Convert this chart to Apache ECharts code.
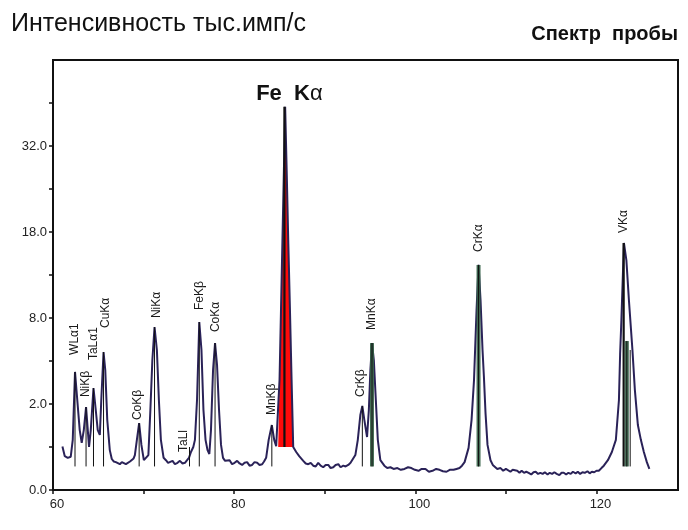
<!DOCTYPE html>
<html><head><meta charset="utf-8">
<script src="https://cdn.jsdelivr.net/npm/echarts@6/dist/echarts.min.js"></script>
<style>html,body{margin:0;padding:0;background:#fff}#c{width:688px;height:530px}</style>
</head><body><div id="c"></div>
<script>
// ---- data (x position, intensity in thousand counts/s) ----
const specX = [
  61.04,61.30,61.63,61.96,62.18,62.43,62.68,62.95,63.17,63.40,
  63.65,63.84,63.98,64.17,64.47,64.72,64.94,65.17,65.33,65.58,
  65.77,65.99,66.27,66.49,66.70,66.94,67.15,67.38,67.60,67.82,
  68.05,68.26,68.50,68.70,68.90,69.04,69.26,69.51,69.76,70.03,
  70.25,70.53,70.75,70.97,71.21,71.47,71.69,71.91,72.21,72.47,
  72.70,72.91,73.20,73.46,73.75,74.01,74.30,74.57,74.80,75.01,
  75.23,75.49,75.67,75.90,76.15,76.39,76.61,76.84,77.06,77.26,
  77.44,77.67,77.89,78.11,78.33,78.55,78.77,79.00,79.22,79.50,
  79.77,80.05,80.33,80.60,80.88,81.15,81.43,81.70,81.98,82.25,
  82.54,82.80,83.09,83.30,83.53,83.81,84.16,84.42,84.64,84.86,
  85.01,85.17,85.33,85.48,85.63,85.81,85.97,86.16,86.34,86.52,
  86.85,87.18,87.63,87.90,88.18,88.45,88.73,89.00,89.28,89.55,
  89.83,90.10,90.39,90.65,90.94,91.20,91.50,91.75,92.05,92.30,
  92.60,92.85,93.05,93.38,93.65,93.93,94.15,94.37,94.67,94.87,
  95.04,95.22,95.42,95.64,95.86,96.14,96.58,96.90,97.25,97.60,
  98.02,98.40,98.80,99.20,99.57,99.95,100.35,100.70,101.12,101.50,
  101.90,102.30,102.67,103.05,103.44,103.80,104.22,104.55,104.88,105.15,
  105.44,105.88,106.21,106.48,106.76,106.98,107.20,107.42,107.57,107.75,
  107.97,108.30,108.55,108.75,109.05,109.41,109.70,110.00,110.19,110.50,
  110.75,110.96,111.25,111.50,111.74,112.00,112.25,112.51,112.80,113.05,
  113.29,113.55,113.80,114.06,114.30,114.60,114.84,115.10,115.35,115.61,
  115.90,116.15,116.39,116.65,116.90,117.16,117.40,117.70,117.94,118.20,
  118.45,118.71,119.00,119.25,119.49,119.75,120.00,120.26,120.55,120.81,
  121.26,121.70,122.14,122.48,122.61,122.75,123.03,123.30,123.58,123.97,
  124.24,124.57,124.90,125.23,125.56,125.84
];
const specI = [
  0.51,0.31,0.28,0.30,0.68,3.77,2.19,0.97,0.60,0.97,
  1.86,0.97,0.50,0.97,2.81,1.73,0.97,0.82,2.19,5.15,
  3.89,1.33,0.43,0.26,0.22,0.21,0.19,0.18,0.21,0.23,
  0.18,0.20,0.22,0.23,0.27,0.33,0.68,1.21,0.55,0.24,
  0.21,0.33,1.73,4.57,7.18,5.30,2.19,0.68,0.28,0.24,
  0.20,0.21,0.23,0.18,0.20,0.23,0.19,0.20,0.24,0.28,
  0.39,0.50,0.68,2.19,7.63,5.30,1.73,0.68,0.43,0.35,
  0.97,3.89,5.84,4.22,1.73,0.55,0.28,0.23,0.21,0.24,
  0.18,0.20,0.23,0.19,0.17,0.20,0.21,0.16,0.17,0.21,
  0.20,0.17,0.18,0.22,0.28,0.68,1.14,0.68,0.52,0.50,
  3.27,8.76,16.9,26.8,39.7,26.8,16.9,8.76,3.27,0.50,
  0.39,0.31,0.23,0.19,0.18,0.20,0.16,0.15,0.20,0.16,
  0.14,0.17,0.17,0.13,0.14,0.17,0.18,0.14,0.16,0.15,
  0.17,0.20,0.21,0.33,0.68,1.52,1.91,1.33,0.76,1.73,
  3.89,5.84,4.57,2.19,0.68,0.24,0.16,0.13,0.14,0.12,
  0.13,0.11,0.12,0.14,0.13,0.11,0.10,0.12,0.12,0.09,
  0.10,0.12,0.11,0.095,0.09,0.11,0.11,0.12,0.13,0.16,
  0.21,0.48,1.33,3.27,8.76,13.7,9.76,5.30,3.50,1.60,
  0.55,0.24,0.17,0.16,0.12,0.13,0.10,0.12,0.11,0.09,
  0.11,0.09,0.10,0.08,0.10,0.08,0.09,0.08,0.065,0.085,
  0.09,0.07,0.08,0.07,0.085,0.065,0.08,0.07,0.085,0.07,
  0.06,0.08,0.08,0.065,0.08,0.07,0.09,0.075,0.09,0.07,
  0.085,0.08,0.095,0.075,0.09,0.085,0.10,0.10,0.13,0.16,
  0.24,0.39,0.68,2.19,5.00,7.80,16.5,14.3,9.76,5.30,
  2.70,1.14,0.68,0.39,0.21,0.12
];

// Fe Kα integration window (x range and base intensity)
const feWindow = [84.86, 86.52];
const feBase = 0.50;
const feLineX = 85.55;
const feTop = 39.7;
const feLabel = ['Fe  K', 'α'];

// peak identification lines
const peakNames = ['WLα1','NiKβ','TaLα1','CuKα','CoKβ','NiKα','TaLl','FeKβ','CoKα','MnKβ','CrKβ','MnKα','CrKα','VKα'];
const peakX     = [62.43, 63.65, 64.47, 65.58, 69.51, 71.21, 75.07, 76.15, 77.89, 84.16, 94.15, 95.22, 106.98, 123.00];
const peakTop   = [3.77, 1.86, 2.81, 5.15, 1.21, 7.18, 0.50, 7.63, 5.84, 1.14, 1.91, 5.84, 13.7, 16.5];
const extraX    = [123.35, 123.72];
const extraTop  = [6.0, 5.3];
const lineFloor = 0.15;

// axis ticks (intensity values)
const xTickValues = [60,70,80,90,100,110,120];
const xLabelValues = [60,80,100,120];
const yTickValues = [0,0.5,2,4.5,8,12.5,18,24.5,32,40.5];
const yLabelValues = [0,2,8,18,32];
const xRange = [60, 129];
const yMaxI = 50;

// ---- layout / style ----
const peakKind  = ['thin','thin','thin','thin','thin','thin','thin','thin','thin','thin','thin','green','green','black'];
const extraKind = ['green','thin'];
const labelGap  = [17,10,28,24,3,9,-5,12,11,10,9,13,13,10];
const labelDx   = [0,0,0,2,-1,2,-6,0,1,0,-2,0,0,0];

const tr = v => Math.sqrt(v / 2);
const kindCode = {thin:0, green:1, black:2};

const curve = specX.map((x, i) => [x, tr(specI[i])]);
const fePts = [];
specX.forEach((x, i) => { if (x >= feWindow[0] - 1e-6 && x <= feWindow[1] + 1e-6) fePts.push([x, specI[i]]); });

const lineRows = peakX.map((x, i) => [x, peakTop[i], lineFloor, kindCode[peakKind[i]]])
  .concat(extraX.map((x, i) => [x, extraTop[i], lineFloor, kindCode[extraKind[i]]]))
  .concat([[feLineX, feTop, feBase, 2]]);
const labelRows = peakX.map((x, i) => [x, tr(peakTop[i]), i]);

const chart = echarts.init(document.getElementById('c'));
chart.setOption({
  animation: false,
  backgroundColor: '#fff',
  title: [
    { text: 'Интенсивность тыс.имп/с', left: 6, top: 7,
      textStyle: { fontFamily: '"Liberation Sans Narrow", "Liberation Sans", sans-serif', fontSize: 25, fontWeight: 'normal', color: '#111' } },
    { text: 'Спектр  пробы', right: 5, top: 19,
      textStyle: { fontFamily: '"Liberation Sans", sans-serif', fontSize: 20, fontWeight: 'bold', color: '#111' } }
  ],
  grid: { left: 53, right: 10, top: 60, bottom: 40, show: true, borderColor: '#111', borderWidth: 2, backgroundColor: 'transparent' },
  xAxis: {
    type: 'value', min: xRange[0], max: xRange[1],
    axisLine: { show: true, onZero: false, lineStyle: { color: '#111', width: 2 } },
    axisTick: { show: true, customValues: xTickValues, length: 4, lineStyle: { color: '#111', width: 1.5 } },
    axisLabel: { customValues: xLabelValues, margin: 8, padding: [0, 0, 0, 8], color: '#222', fontSize: 13, fontFamily: '"Liberation Sans", sans-serif' },
    splitLine: { show: false }
  },
  yAxis: {
    type: 'value', min: 0, max: tr(yMaxI),
    axisLine: { show: true, lineStyle: { color: '#111', width: 2 } },
    axisTick: { show: true, customValues: yTickValues.map(tr), length: 4, lineStyle: { color: '#111', width: 1.5 } },
    axisLabel: { customValues: yLabelValues.map(tr), margin: 6, color: '#222', fontSize: 13, fontFamily: '"Liberation Sans", sans-serif',
      formatter: t => (2 * t * t).toFixed(1) },
    splitLine: { show: false }
  },
  series: [
    { type: 'custom', z: 1, silent: true, data: [[feWindow[0], tr(feBase)]],
      renderItem: (params, api) => {
        const pts = fePts.map(p => api.coord([p[0], tr(p[1])]));
        pts.push(api.coord([feWindow[1], tr(feBase)]));
        pts.unshift(api.coord([feWindow[0], tr(feBase)]));
        return { type: 'polygon', shape: { points: pts }, style: { fill: '#ff0a0a', stroke: null } };
      } },
    { type: 'line', z: 3, data: curve, showSymbol: false, symbol: 'none', smooth: false,
      lineStyle: { color: '#2a2258', width: 2 } },
    { type: 'custom', z: 4, silent: true, data: lineRows,
      renderItem: (params, api) => {
        const x = api.value(0), kind = api.value(3);
        const p1 = api.coord([x, tr(api.value(1))]);
        const p2 = api.coord([x, tr(api.value(2))]);
        const shape = { x1: p1[0], y1: p1[1], x2: p2[0], y2: p2[1] };
        if (kind === 1) {
          return { type: 'group', children: [
            { type: 'line', shape: shape, style: { stroke: 'rgba(52,96,70,0.9)', lineWidth: 4 } },
            { type: 'line', shape: shape, style: { stroke: '#111', lineWidth: 1 } }
          ] };
        }
        return { type: 'line', shape: shape, style: { stroke: '#111', lineWidth: kind === 2 ? 2.2 : 1 } };
      } },
    { type: 'custom', z: 5, silent: true, data: labelRows,
      renderItem: (params, api) => {
        const i = api.value(2);
        const p = api.coord([api.value(0), api.value(1)]);
        return { type: 'text', x: p[0] + labelDx[i], y: p[1] - labelGap[i], rotation: Math.PI / 2,
          style: { text: peakNames[i], fill: '#1a1a1a', fontSize: 12, fontFamily: '"Liberation Sans", sans-serif', align: 'left', verticalAlign: 'middle' } };
      } },
    { type: 'custom', z: 5, silent: true, data: [[feLineX, tr(feTop)]],
      renderItem: (params, api) => {
        const p = api.coord([api.value(0), api.value(1)]);
        return { type: 'text', x: p[0] + 5, y: p[1] - 2,
          style: { text: '{b|' + feLabel[0] + '}{a|' + feLabel[1] + '}', align: 'center', verticalAlign: 'bottom',
            rich: { b: { fontSize: 22, fontWeight: 'bold', fontFamily: '"Liberation Sans", sans-serif', fill: '#111' },
                    a: { fontSize: 22, fontFamily: '"Liberation Sans", sans-serif', fill: '#111' } } } };
      } }
  ]
});
</script></body></html>
